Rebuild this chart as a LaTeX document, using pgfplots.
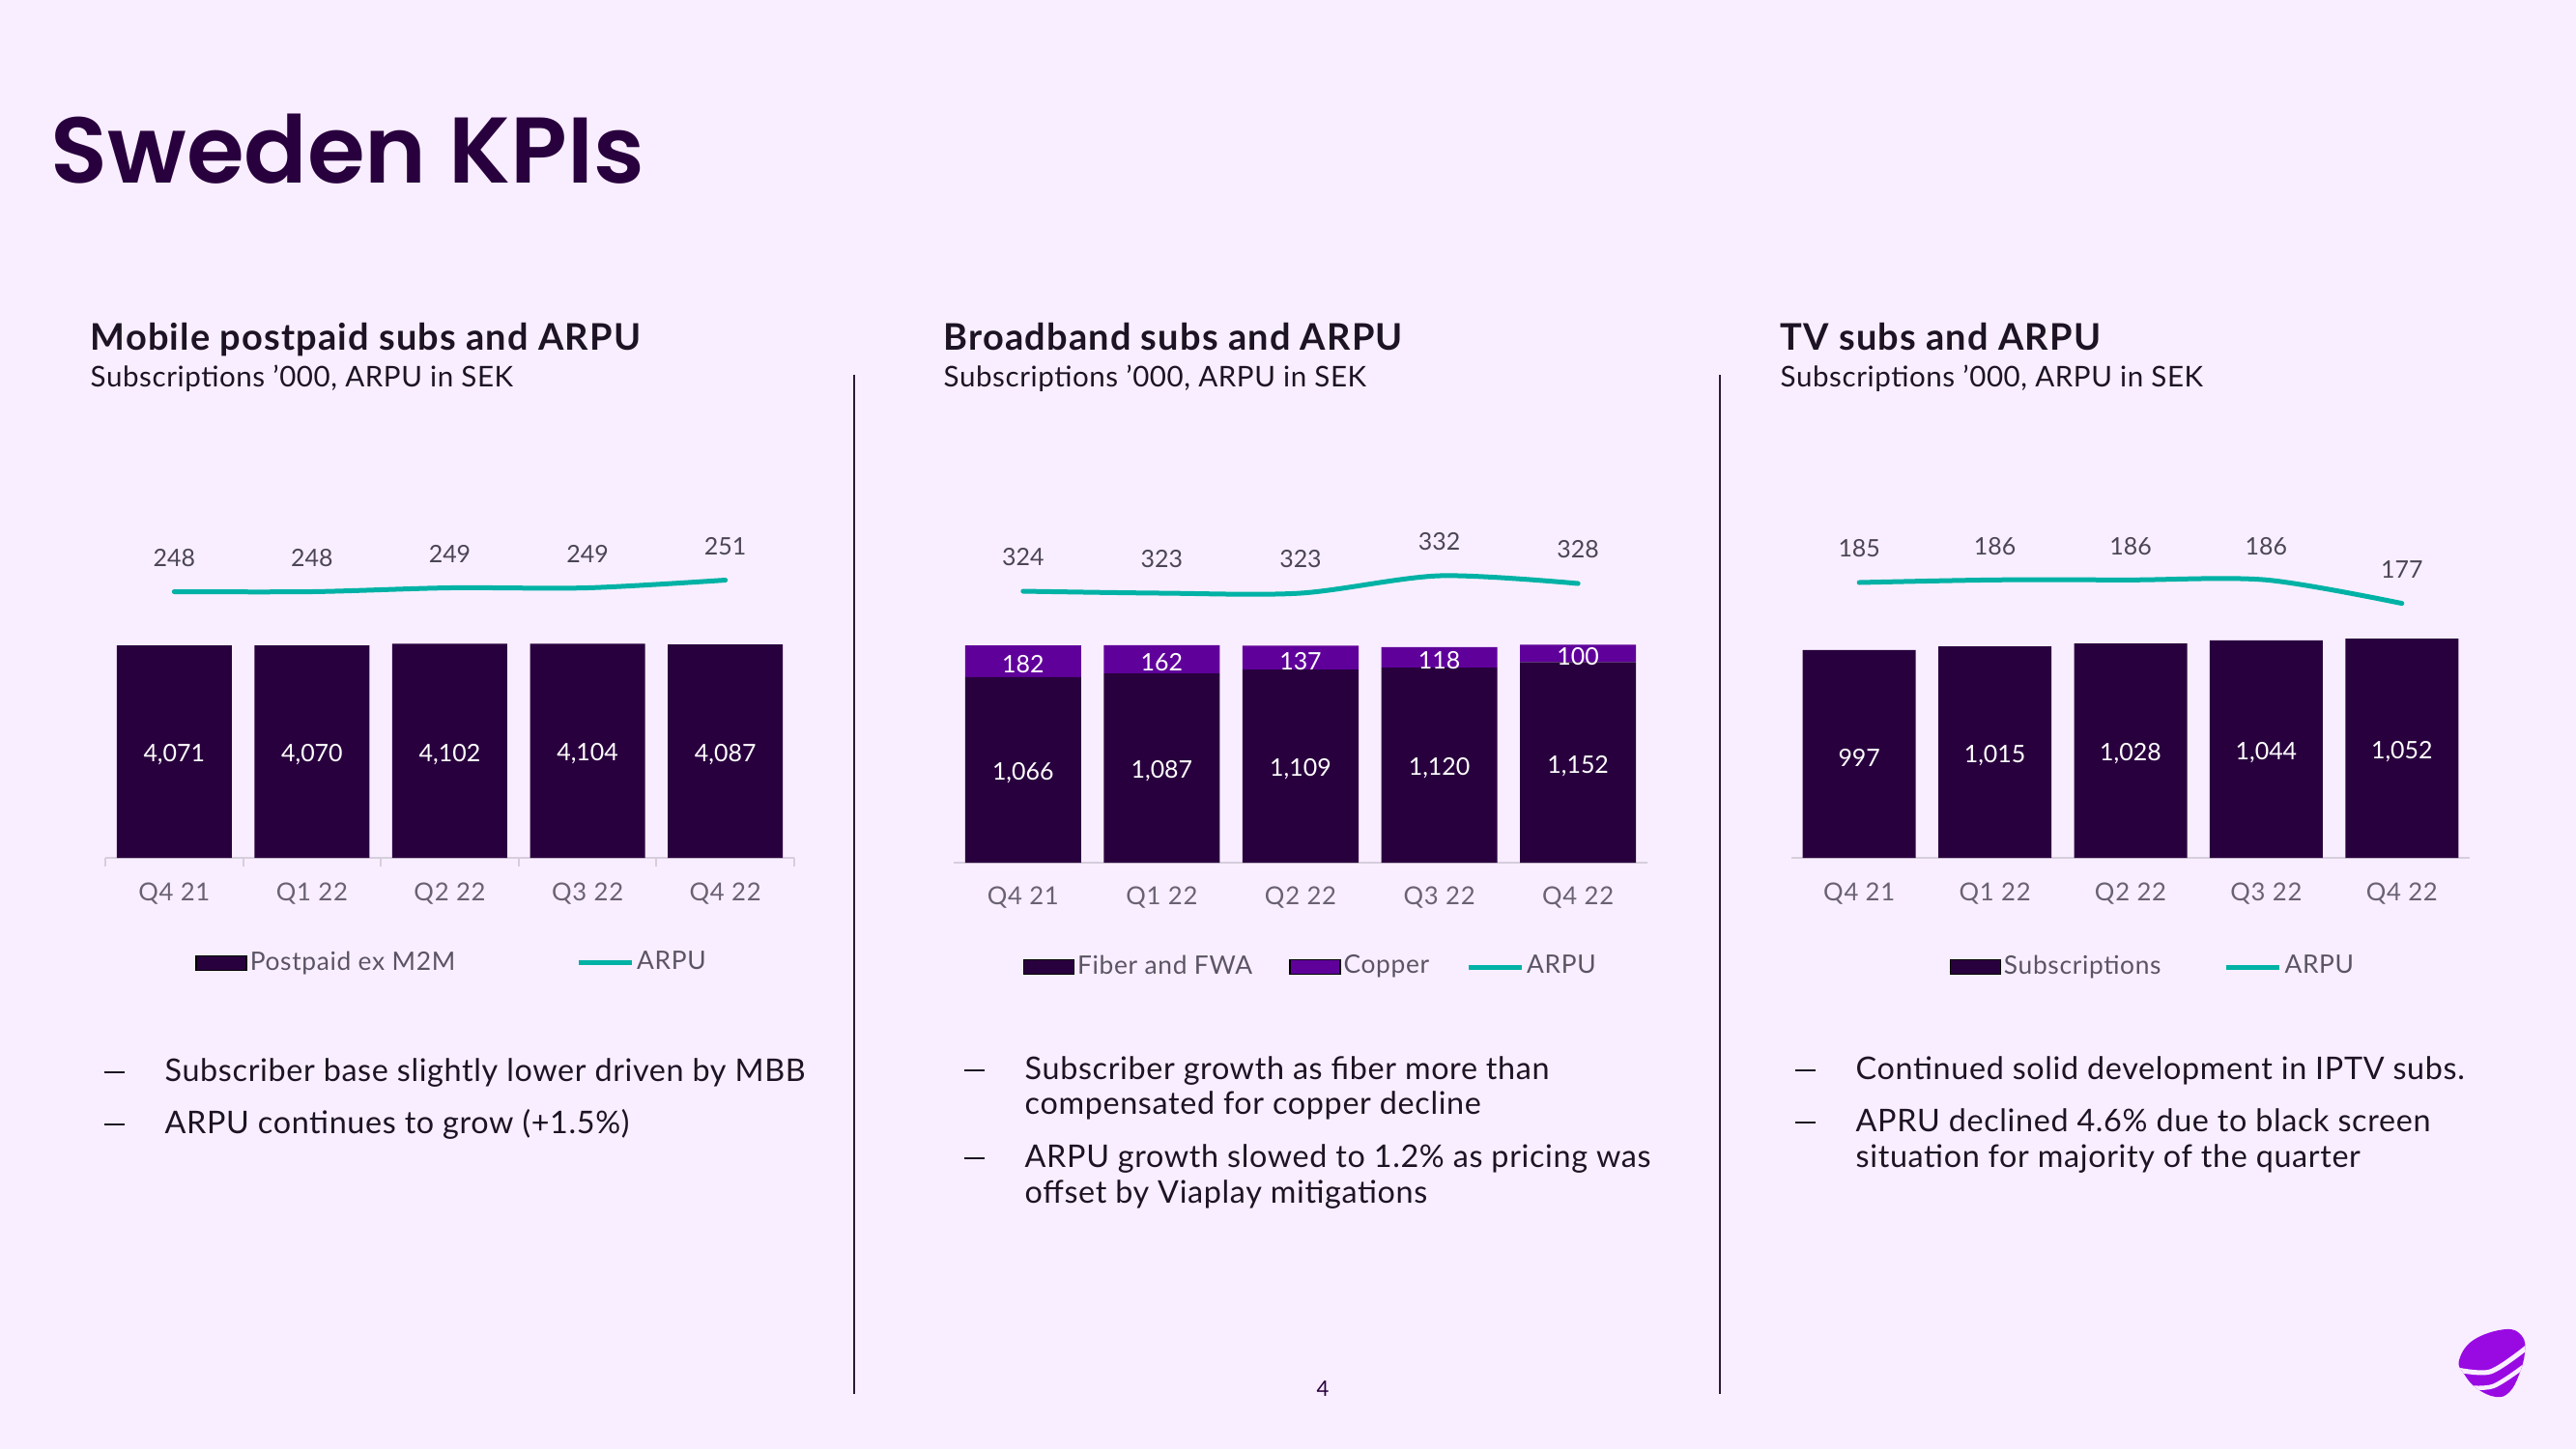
\documentclass[border=0pt]{standalone}
\usepackage{fontspec}
\setmainfont{Lato}
\newfontfamily\titlefont{Poppins}[UprightFont={* SemiBold}]
\usepackage{pgfplots}
\pgfplotsset{compat=1.18}
\usepackage{pgfplotstable}

\definecolor{bg}{RGB}{249,238,255}
\definecolor{deep}{RGB}{41,0,62}
\definecolor{copper}{RGB}{96,0,155}
\definecolor{arputeal}{RGB}{0,178,165}
\definecolor{txt}{RGB}{28,20,36}
\definecolor{ticklbl}{RGB}{105,98,115}
\definecolor{arpulbl}{RGB}{75,70,85}
\definecolor{leg}{RGB}{90,84,100}
\definecolor{axisgrey}{RGB}{214,206,220}
\definecolor{sepcol}{RGB}{45,25,55}
\definecolor{logo}{RGB}{153,10,227}

\newcommand\lblfont{\fontsize{7.1pt}{8.5pt}\selectfont}
\newcommand\tickfont{\fontsize{7.3pt}{8.5pt}\selectfont\addfontfeatures{LetterSpace=3}}
\newcommand\legfont{\fontsize{7.5pt}{8.5pt}\selectfont\addfontfeatures{LetterSpace=2.5}}
\newcommand\bulfont{\fontsize{9.2pt}{10.4pt}\selectfont\addfontfeatures{LetterSpace=2}}
\newcommand\bdash{\rule[0.8mm]{2.1mm}{0.22mm}}

\pgfplotstableread{
q sub arpu
0 4071 248
1 4070 248
2 4102 249
3 4104 249
4 4087 251
}\mob
\pgfplotstableread{
q fib cop arpu
0 1066 182 324
1 1087 162 323
2 1109 137 323
3 1120 118 332
4 1152 100 328
}\bb
\pgfplotstableread{
q sub arpu
0 997 185
1 1015 186
2 1028 186
3 1044 186
4 1052 177
}\tv

\pgfplotsset{
  every axis/.append style={scale only axis, xmin=-0.5, xmax=4.5, anchor=south west, clip=false},
  /pgf/number format/assume math mode=true,
  /pgf/number format/1000 sep={,},
  barleg/.style={legend image code/.code={\fill[##1] (0mm,-0.75mm) rectangle (5.2mm,0.75mm);}},
  lineleg/.style={legend image code/.code={\draw[##1, line cap=butt] (0mm,0mm) -- (5.5mm,0mm);}},
  arpuline/.style={lineleg, arputeal, line width=0.5mm, line cap=round, smooth, tension=0.5,
    nodes near coords, point meta=y,
    every node near coord/.append style={anchor=center, yshift=3.5mm, font=\lblfont, text=arpulbl}},
  barlbl/.style={draw=none, mark=none, nodes near coords,
    every node near coord/.append style={anchor=center, yshift=-0.35mm, font=\lblfont, text=white}},
  mylegend/.style={legend columns=-1, legend style={draw=none, fill=none, inner sep=0pt,
    font=\legfont, text=leg, nodes={inner xsep=0.3mm, inner ysep=0pt},
    /tikz/every even column/.append style={column sep=#1}}},
  baseaxis/.style={axis x line=bottom, axis y line=none,
    x axis line style={-, draw=axisgrey, line width=0.25mm},
    xticklabels={Q4 21,Q1 22,Q2 22,Q3 22,Q4 22},
    xticklabel style={anchor=center, font=\tickfont, text=ticklbl}},
}

\begin{document}
\begin{tikzpicture}
\useasboundingbox (0,0) rectangle (266.6mm,-150mm);
\fill[bg] (0,0) rectangle (266.6mm,-150mm);

% ---------------- Chart 1 ----------------
\begin{axis}[at={(10.9mm,-88.8mm)}, width=71.3mm, height=34.8mm, ymin=0, ymax=6440, baseaxis,
  xtick={-0.5,0.5,...,4.5}, x tick label as interval,
  tick align=outside, major tick length=0.9mm, xtick style={draw=axisgrey, line width=0.2mm},
  xticklabel style={yshift=-2.8mm}]
\addplot[ybar, bar width=11.9mm, fill=deep, draw=none] table[x=q,y=sub]{\mob};
\end{axis}
\begin{axis}[at={(10.9mm,-88.8mm)}, width=71.3mm, height=34.8mm, ymin=0, ymax=6440, hide axis]
\addplot[barlbl, point meta=\thisrow{sub}] table[x=q, y expr=\thisrow{sub}/2]{\mob};
\end{axis}
\begin{axis}[at={(10.9mm,-88.8mm)}, width=71.3mm, height=34.8mm, ymin=179.125, ymax=266.125, hide axis,
  mylegend=12.2mm, legend style={at={(0.130,-0.313)}, anchor=west}]
\addlegendimage{barleg, fill=deep}
\addlegendentry{Postpaid ex M2M}
\addplot[arpuline] table[x=q, y=arpu]{\mob};
\addlegendentry{ARPU}
\end{axis}

% ---------------- Chart 2 ----------------
\begin{axis}[at={(98.7mm,-89.3mm)}, width=71.8mm, height=35.3mm, ymin=0, ymax=1958, baseaxis,
  ybar stacked, bar width=12mm, xtick={0,...,4}, major tick length=0,
  xticklabel style={yshift=-3.6mm}]
\addplot[fill=deep, draw=none] table[x=q,y=fib]{\bb};
\addplot[fill=copper, draw=none] table[x=q,y=cop]{\bb};
\end{axis}
\begin{axis}[at={(98.7mm,-89.3mm)}, width=71.8mm, height=35.3mm, ymin=0, ymax=1958, hide axis]
\addplot[barlbl, point meta=\thisrow{fib}] table[x=q, y expr=\thisrow{fib}/2]{\bb};
\addplot[barlbl, point meta=\thisrow{cop}] table[x=q, y expr=\thisrow{fib}+\thisrow{cop}/2]{\bb};
\end{axis}
\begin{axis}[at={(98.7mm,-89.3mm)}, width=71.8mm, height=35.3mm, ymin=183.5, ymax=360, hide axis,
  mylegend=3.5mm, legend style={at={(0.0989,-0.306)}, anchor=west}]
\addlegendimage{barleg, fill=deep}
\addlegendentry{Fiber and FWA}
\addlegendimage{barleg, fill=copper}
\addlegendentry{Copper}
\addplot[arpuline] table[x=q, y=arpu]{\bb};
\addlegendentry{ARPU}
\end{axis}

% ---------------- Chart 3 ----------------
\begin{axis}[at={(185.4mm,-88.8mm)}, width=70.2mm, height=34.8mm, ymin=0, ymax=1613, baseaxis,
  xtick={0,...,4}, major tick length=0, xticklabel style={yshift=-3.7mm}]
\addplot[ybar, bar width=11.7mm, fill=deep, draw=none] table[x=q,y=sub]{\tv};
\end{axis}
\begin{axis}[at={(185.4mm,-88.8mm)}, width=70.2mm, height=34.8mm, ymin=0, ymax=1613, hide axis]
\addplot[barlbl, point meta=\thisrow{sub}] table[x=q, y expr=\thisrow{sub}/2]{\tv};
\end{axis}
\begin{axis}[at={(185.4mm,-88.8mm)}, width=70.2mm, height=34.8mm, ymin=79.44, ymax=208.33, hide axis,
  mylegend=6.2mm, legend style={at={(0.232,-0.325)}, anchor=west}]
\addlegendimage{barleg, fill=deep}
\addlegendentry{Subscriptions}
\addplot[arpuline] table[x=q, y=arpu]{\tv};
\addlegendentry{ARPU}
\end{axis}

% ---------------- Text and decoration (pixel coordinates) ----------------
\begin{scope}[x=0.1mm, y=-0.1mm]
\node[anchor=base west, inner sep=0, text=deep, font=\titlefont\fontsize{27.5pt}{30pt}\selectfont] at (52,189) {Sweden KPIs};

\tikzset{ctitle/.style={anchor=base west, inner sep=0, text=txt, font=\bfseries\fontsize{10.8pt}{12pt}\selectfont\addfontfeatures{LetterSpace=3}},
         csub/.style={anchor=base west, inner sep=0, text=txt, font=\fontsize{8.4pt}{10pt}\selectfont\addfontfeatures{LetterSpace=2}},
         bul/.style={anchor=base west, inner sep=0, text=txt, font=\bulfont}}
\node[ctitle] at (93,362) {Mobile postpaid subs and ARPU};
\node[csub] at (93,400) {Subscriptions ’000, ARPU in SEK};
\node[ctitle] at (976,362) {Broadband subs and ARPU};
\node[csub] at (976,400) {Subscriptions ’000, ARPU in SEK};
\node[ctitle] at (1842,362) {TV subs and ARPU};
\node[csub] at (1842,400) {Subscriptions ’000, ARPU in SEK};

\draw[sepcol, line width=0.2mm] (884,388) -- (884,1443);
\draw[sepcol, line width=0.2mm] (1780,388) -- (1780,1443);

% bullets chart 1
\node[bul] at (107,1119) {\bdash};
\node[bul] at (170,1119) {Subscriber base slightly lower driven by MBB};
\node[bul] at (107,1173) {\bdash};
\node[bul] at (170,1173) {ARPU continues to grow (+1.5\%)};
% bullets chart 2
\node[bul] at (997,1117) {\bdash};
\node[bul] at (1060,1117) {Subscriber growth as fiber more than};
\node[bul] at (1060,1153) {compensated for copper decline};
\node[bul] at (997,1208) {\bdash};
\node[bul] at (1060,1208) {ARPU growth slowed to 1.2\% as pricing was};
\node[bul] at (1060,1245) {offset by Viaplay mitigations};
% bullets chart 3
\node[bul] at (1857,1117) {\bdash};
\node[bul] at (1920,1117) {Continued solid development in IPTV subs.};
\node[bul] at (1857,1171) {\bdash};
\node[bul] at (1920,1171) {APRU declined 4.6\% due to black screen};
\node[bul] at (1920,1208) {situation for majority of the quarter};

\node[anchor=base, inner sep=0, text=deep, font=\fontsize{6.3pt}{7pt}\selectfont] at (1369,1445) {4};

% logo
\fill[logo] plot[smooth cycle, tension=0.7] coordinates {(2545,1408) (2560,1387) (2593,1376) (2610,1383) (2613,1400) (2607,1423) (2597,1441) (2583,1446) (2563,1437) (2550,1422)};
\begin{scope}
\clip plot[smooth cycle, tension=0.7] coordinates {(2545,1408) (2560,1387) (2593,1376) (2610,1383) (2613,1400) (2607,1423) (2597,1441) (2583,1446) (2563,1437) (2550,1422)};
\draw[bg, line width=0.5mm] plot[smooth] coordinates {(2538,1417) (2577,1420) (2616,1394)};
\draw[bg, line width=0.45mm] plot[smooth] coordinates {(2548,1436) (2580,1435) (2614,1413)};
\end{scope}
\end{scope}
\end{tikzpicture}
\end{document}
